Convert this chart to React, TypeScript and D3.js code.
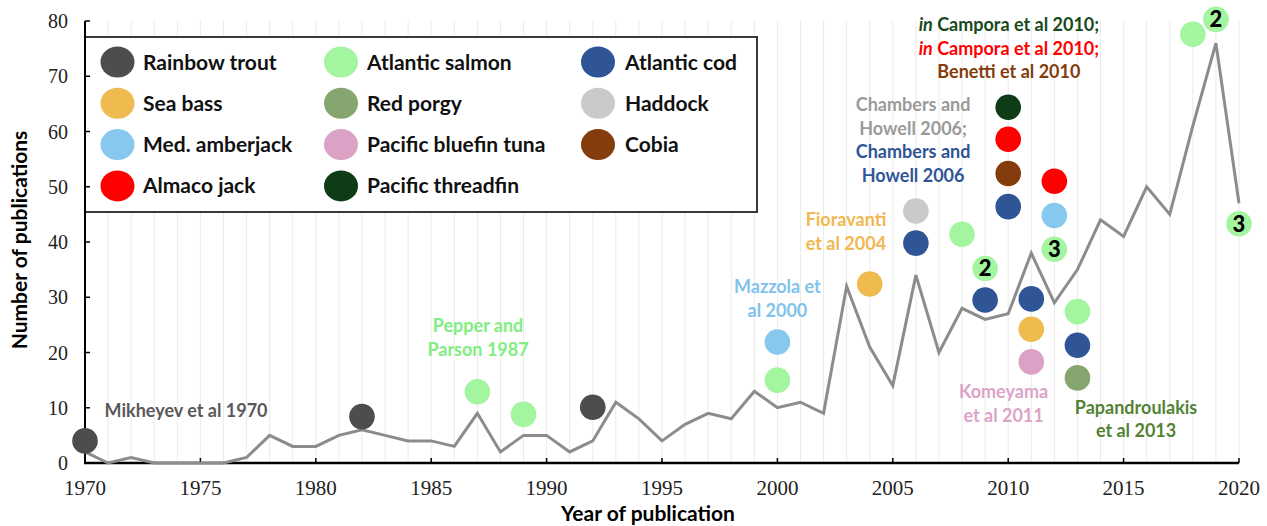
import React from 'react'
import * as d3 from 'd3'

// publications per year, 1970 - 2020
const years = [1970,1971,1972,1973,1974,1975,1976,1977,1978,1979,1980,1981,1982,1983,1984,1985,1986,1987,1988,1989,1990,1991,1992,1993,1994,1995,1996,1997,1998,1999,2000,2001,2002,2003,2004,2005,2006,2007,2008,2009,2010,2011,2012,2013,2014,2015,2016,2017,2018,2019,2020]
const publications = [2,0,1,0,0,0,0,1,5,3,3,5,6,5,4,4,3,9,2,5,5,2,4,11,8,4,7,9,8,13,10,11,9,32,21,14,34,20,28,26,27,38,29,35,44,41,50,45,61,76,47]

const xTicks = [1970,1975,1980,1985,1990,1995,2000,2005,2010,2015,2020]
const yTicks = [0,10,20,30,40,50,60,70,80]

// legend order is row by row, 3 columns
const species = ['Rainbow trout','Atlantic salmon','Atlantic cod','Sea bass','Red porgy','Haddock','Med. amberjack','Pacific bluefin tuna','Cobia','Almaco jack','Pacific threadfin']
const speciesColors = ['#4d4d4d','#a4f5a0','#2f5597','#efbb4f','#86a56f','#cacaca','#86c8ee','#dba2c6','#843c0c','#ff0000','#0e3c16']

// first publication markers
const dotYears = [1970,1982,1987,1989,1992,2000,2000,2004,2006,2006,2008,2009,2009,2010,2010,2010,2010,2011,2011,2011,2012,2012,2012,2013,2013,2013,2018,2019,2020]
const dotValues = [4,8.4,12.9,8.8,10.1,15,21.9,32.4,39.8,45.6,41.4,29.5,35.2,46.4,52.4,58.6,64.4,29.7,24.2,18.3,51,44.8,38.7,27.4,21.3,15.4,77.6,80.3,43.3]
const dotSpecies = ['Rainbow trout','Rainbow trout','Atlantic salmon','Atlantic salmon','Rainbow trout','Atlantic salmon','Med. amberjack','Sea bass','Atlantic cod','Haddock','Atlantic salmon','Atlantic cod','Atlantic salmon','Atlantic cod','Cobia','Almaco jack','Pacific threadfin','Atlantic cod','Sea bass','Pacific bluefin tuna','Almaco jack','Med. amberjack','Atlantic salmon','Atlantic salmon','Atlantic cod','Red porgy','Atlantic salmon','Atlantic salmon','Atlantic salmon']
const dotCounts = ['','','','','','','','','','','','','2','','','','','','','','','','3','','','','','2','3']

// text notes: anchor year / value, then lines of coloured pieces
const notes = [
  { year: 1970.85, value: 9.5, anchor: 'start', lines: [[['Mikheyev et al 1970', '#595959']]] },
  { year: 1987.03, value: 24.8, anchor: 'middle', lines: [[['Pepper and', '#80ee80']], [['Parson 1987', '#80ee80']]] },
  { year: 2000, value: 31.9, anchor: 'middle', lines: [[['Mazzola et', '#7fc3ea']], [['al 2000', '#7fc3ea']]] },
  { year: 2002.97, value: 44, anchor: 'middle', lines: [[['Fioravanti', '#f0b850']], [['et al 2004', '#f0b850']]] },
  { year: 2005.88, value: 64.8, anchor: 'middle', lines: [[['Chambers and', '#9a9a9a']], [['Howell 2006;', '#9a9a9a']], [['Chambers and', '#2f5597']], [['Howell 2006', '#2f5597']]] },
  { year: 2010.03, value: 79.3, anchor: 'middle', lines: [[['in', '#174a1c', 'i'], [' Campora et al 2010;', '#174a1c']], [['in', '#ff0000', 'i'], [' Campora et al 2010;', '#ff0000']], [['Benetti et al 2010', '#843c0c']]] },
  { year: 2009.8, value: 12.9, anchor: 'middle', lines: [[['Komeyama', '#dca3c8']], [['et al 2011', '#dca3c8']]] },
  { year: 2015.54, value: 10.1, anchor: 'middle', lines: [[['Papandroulakis', '#548235']], [['et al 2013', '#548235']]] },
]

const font = 'Lato, "Open Sans", sans-serif'
const serif = '"Liberation Serif", "DejaVu Serif", serif'

export default function App() {
  const x = d3.scaleLinear().domain([1970, 2020]).range([85, 1239])
  const y = d3.scaleLinear().domain([0, 80]).range([463, 21])
  const color = d3.scaleOrdinal<string, string>().domain(species).range(speciesColors)

  const line = d3.line<number>()
    .x((d, i) => x(years[i]))
    .y((d) => y(d))

  const lineHeight = 23.5

  return (
    <svg width={1267} height={526} style={{ position: 'absolute', left: 0, top: 0, background: '#fff' }}>
      {/* faint yearly grid */}
      {years.slice(1).map((yr) => (
        <line key={yr} x1={x(yr)} x2={x(yr)} y1={y(80)} y2={y(0)} stroke="#ebebeb" strokeWidth={1} />
      ))}

      {/* legend */}
      <rect x={85} y={37} width={672} height={175} fill="#fff" stroke="#3a3a3a" strokeWidth={2} />
      {species.map((s, i) => {
        const col = i % 3
        const row = Math.floor(i / 3)
        const cx = [117.5, 341, 598][col]
        const tx = [143, 367, 625][col]
        const cy = 62 + row * 41.3
        return (
          <g key={s}>
            <ellipse cx={cx} cy={cy} rx={17} ry={15.5} fill={color(s)} />
            <text x={tx} y={cy} dy="0.36em" fontFamily={font} fontWeight={700} fontSize={21} fill="#111">{s}</text>
          </g>
        )
      })}

      {/* axes */}
      <line x1={85} x2={85} y1={y(80)} y2={y(0) + 1} stroke="#000" strokeWidth={2} />
      <line x1={84} x2={x(2020)} y1={y(0)} y2={y(0)} stroke="#000" strokeWidth={2.5} />
      {yTicks.map((t) => (
        <g key={t}>
          <line x1={85} x2={90} y1={y(t)} y2={y(t)} stroke="#000" strokeWidth={1.5} />
          <text x={68} y={y(t)} dy="0.35em" textAnchor="end" fontFamily={serif} fontSize={20} fill="#222">{t}</text>
        </g>
      ))}
      {xTicks.map((t) => (
        <g key={t}>
          <line x1={x(t)} x2={x(t)} y1={y(0)} y2={y(0) - 5} stroke="#000" strokeWidth={1.5} />
          <text x={x(t)} y={488} dy="0.35em" textAnchor="middle" fontFamily={serif} fontSize={21} fill="#222">{t}</text>
        </g>
      ))}

      {/* publication line */}
      <path d={line(publications) || ''} fill="none" stroke="#8c8c8c" strokeWidth={3} strokeLinejoin="miter" />

      {/* markers */}
      {dotYears.map((yr, i) => (
        <g key={i}>
          <circle cx={x(yr)} cy={y(dotValues[i])} r={12.8} fill={color(dotSpecies[i])} />
          {dotCounts[i] && (
            <text x={x(yr)} y={y(dotValues[i])} dy="0.36em" textAnchor="middle" fontFamily={font} fontWeight={900} fontSize={22} fill="#000">{dotCounts[i]}</text>
          )}
        </g>
      ))}

      {/* notes */}
      {notes.map((n, i) => (
        <text key={i} x={x(n.year)} y={y(n.value)} textAnchor={n.anchor} fontFamily={font} fontWeight={700} fontSize={18}>
          {n.lines.map((ln, j) => (
            <tspan key={j} x={x(n.year)} y={y(n.value) + j * lineHeight} dy="0.36em">
              {ln.map((p, k) => (
                <tspan key={k} fill={p[1]} fontStyle={p[2] ? 'italic' : 'normal'}>{p[0]}</tspan>
              ))}
            </tspan>
          ))}
        </text>
      ))}

      {/* axis titles */}
      <text x={648} y={513} dy="0.36em" textAnchor="middle" fontFamily={font} fontWeight={700} fontSize={21} fill="#000">Year of publication</text>
      <text transform="translate(19,240) rotate(-90)" dy="0.36em" textAnchor="middle" fontFamily={font} fontWeight={700} fontSize={21} fill="#000">Number of publications</text>
    </svg>
  )
}
